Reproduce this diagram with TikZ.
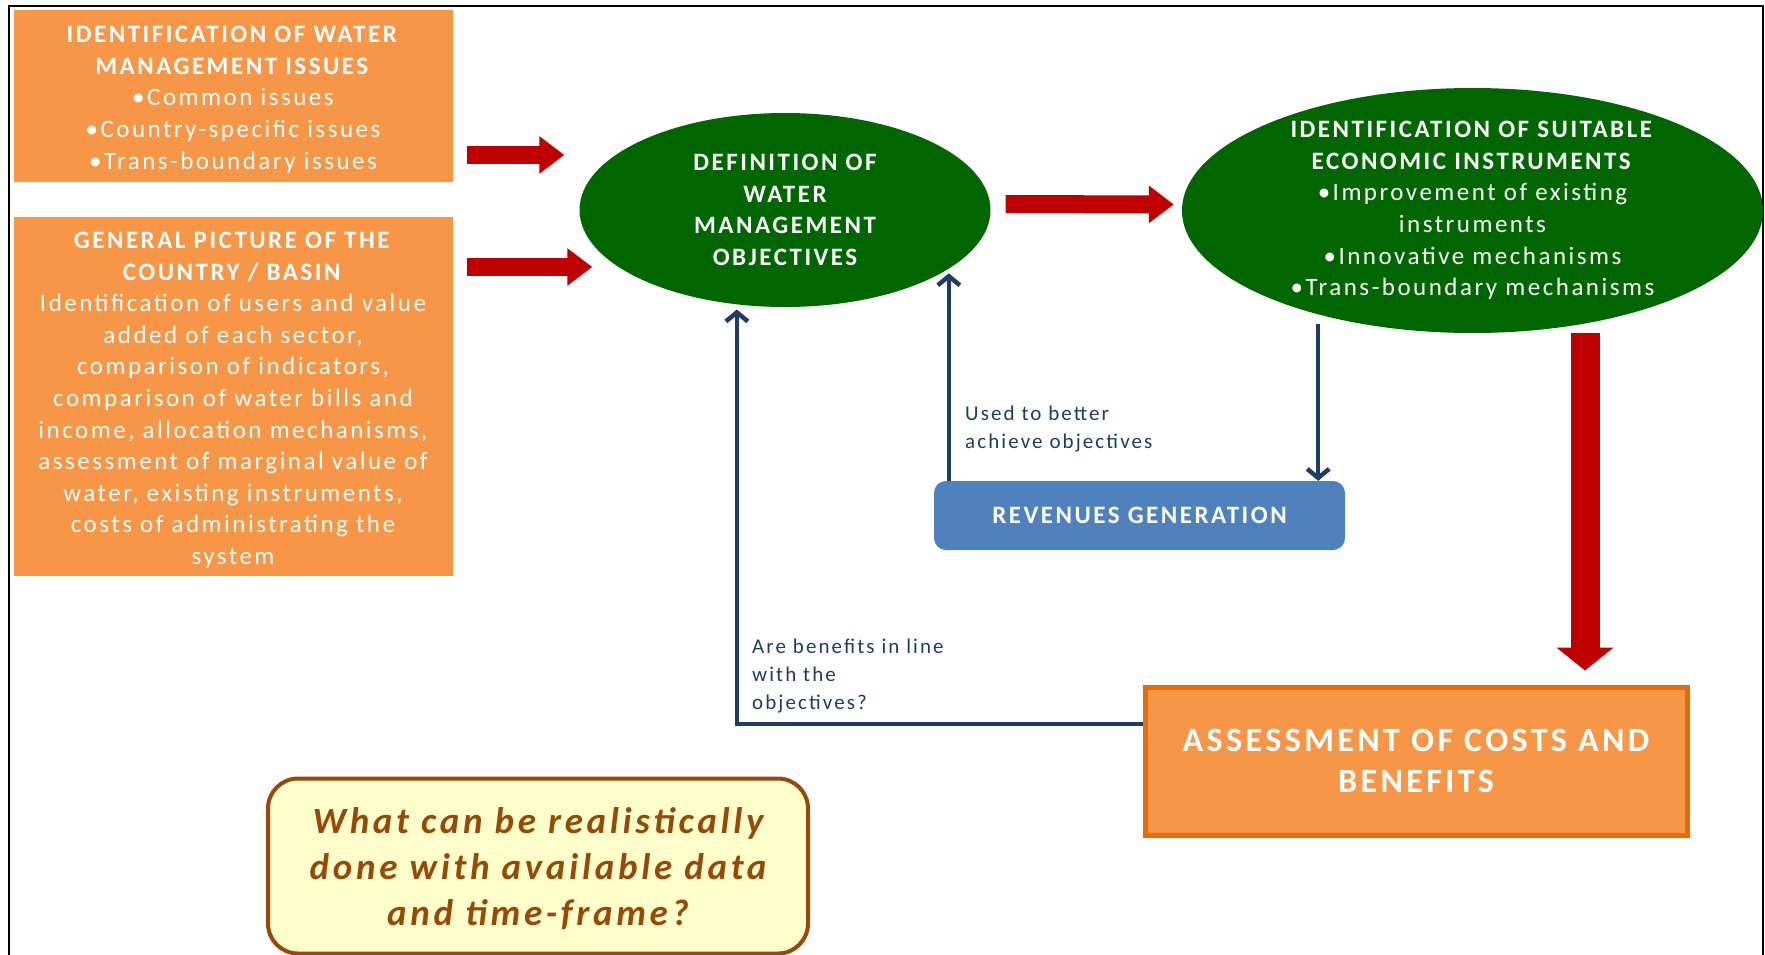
\documentclass[tikz,border=0pt]{standalone}
\usepackage{fontspec}
\setmainfont{Carlito}[LetterSpace=10]
\usetikzlibrary{arrows.meta,shapes.geometric}

\definecolor{boxorange}{HTML}{F79646}
\definecolor{edgeorange}{HTML}{E46C0A}
\definecolor{ovalgreen}{HTML}{006600}
\definecolor{arrowred}{HTML}{C00000}
\definecolor{navy}{HTML}{1F3B66}
\definecolor{revblue}{HTML}{4F81BD}
\definecolor{notefill}{HTML}{FFFFCC}
\definecolor{notebrown}{HTML}{984807}

\begin{document}
\begin{tikzpicture}[x=1pt, y=-1pt,
  every node/.style = {align=center, inner sep=0pt},
  bodytext/.style = {font=\fontsize{25}{31.6}\selectfont},
  orangebox/.style = {rectangle, fill=boxorange, text=white,
    minimum width=439pt, bodytext},
  greenoval/.style = {ellipse, fill=ovalgreen, text=white,
    font=\fontsize{25}{31.6}\selectfont\bfseries},
  bigred/.style = {draw=arrowred, line width=18pt,
    -{Triangle[length=25pt,width=36pt]}},
  navyline/.style = {draw=navy, line width=4.5pt},
  navyarrow/.style = {navyline, -{Straight Barb[length=9pt,width=22pt]}},
  remark/.style = {text=navy, align=left, font=\fontsize{21}{27.8}\selectfont}]

  \useasboundingbox (0,0) rectangle (1765,954);
  \draw[line width=1.5pt] (9,960) |- (1763,6) -- (1763,960);

  \node[orangebox, minimum height=172pt] (issues) at (233,96)
    {\rule{0pt}{24pt}\textbf{IDENTIFICATION OF WATER}\\\textbf{MANAGEMENT ISSUES}\\
     \textbullet Common issues\\\textbullet Country-specific issues\\
     \textbullet Trans-boundary issues};
  \node[orangebox, minimum height=359pt] (country) at (233,396.5)
    {\rule{0pt}{24pt}\textbf{GENERAL PICTURE OF THE}\\\textbf{COUNTRY / BASIN}\\
     Identification of users and value\\added of each sector,\\
     comparison of indicators,\\comparison of water bills and\\
     income, allocation mechanisms,\\assessment of marginal value of\\
     water, existing instruments,\\costs of administrating the\\system};

  \node[greenoval, minimum width=411pt, minimum height=194pt] (def) at (785,210)
    {DEFINITION OF\\WATER\\MANAGEMENT\\OBJECTIVES};
  \node[greenoval, minimum width=581pt, minimum height=245pt] (instr) at (1472.5,210.5) {};
  \node[text=white, bodytext] (instrtext) at (instr)
    {\textbf{IDENTIFICATION OF SUITABLE}\\\textbf{ECONOMIC INSTRUMENTS}\\
     \textbullet Improvement of existing\\instruments\\
     \textbullet Innovative mechanisms\\\textbullet Trans-boundary mechanisms};

  \node[rectangle, rounded corners=12pt, fill=revblue, text=white,
    minimum width=411pt, minimum height=69pt,
    font=\fontsize{25}{31.6}\selectfont\bfseries] (rev) at (1139.5,515.5)
    {REVENUES GENERATION};

  \node[rectangle, fill=boxorange, draw=edgeorange, line width=5pt, text=white,
    minimum width=542pt, minimum height=148pt,
    font=\fontsize{34}{41.5}\selectfont\bfseries] (assess) at (1416,761)
    {ASSESSMENT OF COSTS AND\\BENEFITS};

  \node[rectangle, rounded corners=30pt, fill=notefill, draw=notebrown,
    line width=4pt, text=notebrown, minimum width=540pt, minimum height=175pt,
    font=\fontsize{37}{46}\selectfont\bfseries\itshape] (data) at (538,866)
    {\rule{0pt}{32pt}What can be realistically\\done with available data\\and time-frame?};

  \coordinate (a1) at ([yshift=-59pt]issues.east);
  \coordinate (a2) at ([yshift=129.5pt]country.east);
  \draw[bigred, shorten <=14pt, shorten >=15pt] (a1) -- (a1 -| def.west);
  \draw[bigred, shorten <=14pt, shorten >=-13pt] (a2) -- (a2 -| def.west);
  \draw[bigred, shorten <=15pt, shorten >=8pt]
    ([yshift=6pt]def.east) -- ([yshift=6pt]instr.west);

  \coordinate (downfoot) at ([xshift=169pt]assess.north);
  \draw[draw=arrowred, line width=29pt, -{Triangle[length=23pt,width=56pt]},
    shorten >=14pt] (downfoot |- instr.south) -- (downfoot);

  \coordinate (revhead) at ([xshift=-27pt]rev.north east);
  \draw[navyarrow, shorten <=9pt] (revhead |- instr.-146) -- (revhead);

  \coordinate (usedfoot) at ([xshift=15pt]rev.north west);
  \draw[navyarrow, shorten >=4pt] (usedfoot) -- (usedfoot |- def.-20);
  \node[remark, anchor=west] (usedlbl) at (965,429)
    {Used to better\\achieve objectives};

  \draw[navyarrow, shorten >=5pt] ([yshift=37pt]assess.west) -| (def.-117);
  \node[remark, anchor=west] (benefitlbl) at (752,676)
    {Are benefits in line\\with the\\objectives?};
\end{tikzpicture}
\end{document}
